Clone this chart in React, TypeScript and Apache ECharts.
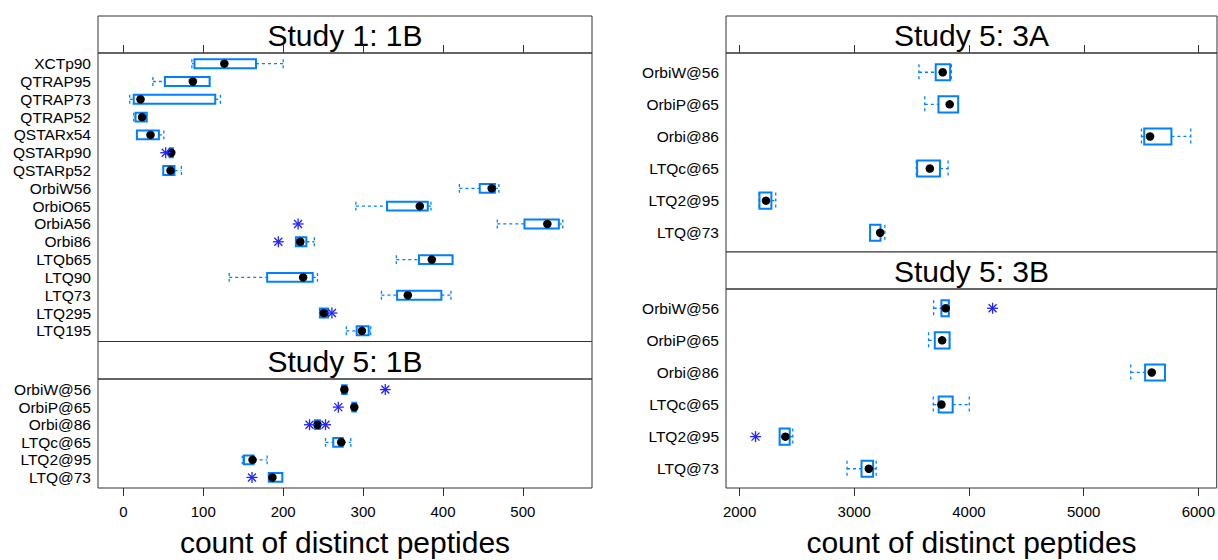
import React, { useEffect, useRef } from "react";
import * as echarts from "echarts";

// ---------- data (categories listed bottom to top) ----------
const study1Names = ["LTQ195", "LTQ295", "LTQ73", "LTQ90", "LTQb65", "Orbi86", "OrbiA56", "OrbiO65", "OrbiW56", "QSTARp52", "QSTARp90", "QSTARx54", "QTRAP52", "QTRAP73", "QTRAP95", "XCTp90"];
const study1Lo = [279, 246, 323, 132.5, 341.6, 216, 468, 291, 420.6, 50, 57.5, 17, 13, 8, 37, 85.8];
const study1Q1 = [292, 246, 342.6, 180, 370, 216, 502, 330, 446, 50, 58, 17, 15.3, 13, 52, 89];
const study1Med = [298.6, 251, 356, 225, 386, 221.5, 530.6, 371, 461, 59, 60, 34, 23.5, 21.5, 87, 126.4];
const study1Q3 = [307, 256, 398, 237, 412, 229, 545, 381, 465, 64, 62, 44.5, 29.2, 115, 108, 166];
const study1Hi = [309.6, 256, 410, 243, 412, 239, 550, 385, 470, 72.7, 62, 50.7, 29.2, 121.5, 108, 200];
const study1OutNames = ["LTQ295", "Orbi86", "OrbiA56", "QSTARp90"];
const study1OutValues = [261, 194, 218.7, 53];

const s5Names = ["LTQ@73", "LTQ2@95", "LTQc@65", "Orbi@86", "OrbiP@65", "OrbiW@56"];

const s51BLo = [182, 148.8, 253, 240, 286.6, 273.7];
const s51BQ1 = [182, 151, 262.7, 240, 286.6, 273.7];
const s51BMed = [186.6, 161.7, 272.7, 243, 289, 276.6];
const s51BQ3 = [199, 163, 274.6, 246, 291.4, 279.4];
const s51BHi = [199, 180, 284.7, 246, 291.4, 279.4];
const s51BOutNames = ["LTQ@73", "Orbi@86", "Orbi@86", "OrbiP@65", "OrbiW@56"];
const s51BOutValues = [161, 233, 253, 269, 327.8];

const s53ALo = [3137, 2169, 3540, 5502, 3614, 3563];
const s53AQ1 = [3137, 2173, 3547, 5526, 3733, 3709];
const s53AMed = [3225, 2230, 3658, 5577, 3831, 3770];
const s53AQ3 = [3228, 2277, 3746, 5763, 3905, 3835];
const s53AHi = [3266, 2315, 3817, 5932, 3905, 3845];
const s53AOutNames: string[] = [];
const s53AOutValues: number[] = [];

const s53BLo = [2937, 2349, 3689, 5411, 3648, 3692];
const s53BQ1 = [3063, 2349, 3736, 5536, 3702, 3760];
const s53BMed = [3127, 2399, 3760, 5594, 3766, 3797];
const s53BQ3 = [3164, 2437, 3858, 5709, 3831, 3824];
const s53BHi = [3191, 2464, 4003, 5709, 3831, 3824];
const s53BOutNames = ["LTQ2@95", "OrbiW@56"];
const s53BOutValues = [2139, 4206];

const leftTicks = [0, 100, 200, 300, 400, 500];
const rightTicks = [2000, 3000, 4000, 5000, 6000];
const stripTitles = ["Study 1: 1B", "Study 5: 1B", "Study 5: 3A", "Study 5: 3B"];
const axisTitle = "count of distinct peptides";

// ---------- styles ----------
const BOX = "#0080ff";
const STAR = "#2424ff";
const FRAME = "#333333";
const FONT = "'Liberation Sans', Arial, Helvetica, sans-serif";

const LEFT = { x: 98, w: 494, min: -31.7, max: 586.5, ticks: leftTicks };
const RIGHT = { x: 726, w: 491, min: 1881.5, max: 6160.4, ticks: rightTicks };

type Panel = {
  col: typeof LEFT;
  stripTop: number;
  stripH: number;
  panelTop: number;
  panelH: number;
  title: string;
  names: string[];
  lo: number[];
  q1: number[];
  med: number[];
  q3: number[];
  hi: number[];
  outNames: string[];
  outValues: number[];
  topTicks: boolean;
  bottomAxis: boolean;
};

const panels: Panel[] = [
  { col: LEFT, stripTop: 16, stripH: 37, panelTop: 53, panelH: 288.5, title: stripTitles[0], names: study1Names, lo: study1Lo, q1: study1Q1, med: study1Med, q3: study1Q3, hi: study1Hi, outNames: study1OutNames, outValues: study1OutValues, topTicks: true, bottomAxis: false },
  { col: LEFT, stripTop: 341.5, stripH: 37.5, panelTop: 379, panelH: 109, title: stripTitles[1], names: s5Names, lo: s51BLo, q1: s51BQ1, med: s51BMed, q3: s51BQ3, hi: s51BHi, outNames: s51BOutNames, outValues: s51BOutValues, topTicks: false, bottomAxis: true },
  { col: RIGHT, stripTop: 16, stripH: 37, panelTop: 53, panelH: 199, title: stripTitles[2], names: s5Names, lo: s53ALo, q1: s53AQ1, med: s53AMed, q3: s53AQ3, hi: s53AHi, outNames: s53AOutNames, outValues: s53AOutValues, topTicks: true, bottomAxis: false },
  { col: RIGHT, stripTop: 252, stripH: 37, panelTop: 289, panelH: 199, title: stripTitles[3], names: s5Names, lo: s53BLo, q1: s53BQ1, med: s53BMed, q3: s53BQ3, hi: s53BHi, outNames: s53BOutNames, outValues: s53BOutValues, topTicks: false, bottomAxis: true },
];

function buildOption() {
  const grid: any[] = [];
  const xAxis: any[] = [];
  const yAxis: any[] = [];
  const series: any[] = [];
  const graphic: any[] = [];

  panels.forEach((p) => {
    const n = p.names.length;
    // strip grid
    const sIdx = grid.length;
    grid.push({ left: p.col.x, top: p.stripTop, width: p.col.w, height: p.stripH, show: true, borderColor: FRAME, borderWidth: 1, backgroundColor: "#ffffff", containLabel: false });
    xAxis.push({
      gridIndex: sIdx, type: "value", min: p.col.min, max: p.col.max, position: "top",
      axisLine: { show: false },
      axisTick: { show: p.topTicks, inside: false, length: 8, customValues: p.col.ticks, lineStyle: { color: FRAME, width: 1 } },
      axisLabel: { show: false }, splitLine: { show: false },
    });
    yAxis.push({ gridIndex: sIdx, type: "value", min: 0, max: 1, show: false });
    graphic.push({
      type: "text", x: p.col.x + p.col.w / 2, y: p.stripTop + p.stripH / 2 + 1,
      style: { text: p.title, fontSize: 30, fontFamily: FONT, fill: "#000", align: "center", verticalAlign: "middle" },
    });

    // panel grid
    const pIdx = grid.length;
    grid.push({ left: p.col.x, top: p.panelTop, width: p.col.w, height: p.panelH, show: true, borderColor: FRAME, borderWidth: 1, backgroundColor: "transparent", containLabel: false });
    xAxis.push({
      gridIndex: pIdx, type: "value", min: p.col.min, max: p.col.max, position: "bottom",
      axisLine: { show: false },
      axisTick: { show: p.bottomAxis, inside: false, length: 8, customValues: p.col.ticks, lineStyle: { color: FRAME, width: 1 } },
      axisLabel: { show: p.bottomAxis, customValues: p.col.ticks, fontSize: 15, fontFamily: FONT, color: "#000", margin: 16, formatter: (v: number) => String(v) },
      splitLine: { show: false },
    });
    const idxs = p.names.map((_, i) => i + 1);
    const names = p.names;
    yAxis.push({
      gridIndex: pIdx, type: "value", min: 0.4, max: n + 0.6,
      axisLine: { show: false }, axisTick: { show: false }, splitLine: { show: false },
      axisLabel: {
        customValues: idxs, fontSize: 15.5, fontFamily: FONT, color: "#000", margin: 7,
        formatter: (v: number) => names[Math.round(v) - 1] ?? "",
      },
    });

    const boxData = p.names.map((_, i) => [p.lo[i], p.q1[i], p.q3[i], p.hi[i], i + 1]);
    series.push({
      type: "custom", xAxisIndex: pIdx, yAxisIndex: pIdx, z: 2, clip: false,
      encode: { x: [0, 1, 2, 3], y: 4 },
      data: boxData,
      renderItem: (params: any, api: any) => {
        const lo = api.value(0), q1 = api.value(1), q3 = api.value(2), hi = api.value(3), y = api.value(4);
        const pLo = api.coord([lo, y]);
        const pQ1 = api.coord([q1, y]);
        const pQ3 = api.coord([q3, y]);
        const pHi = api.coord([hi, y]);
        const bh = api.size([0, 0.5])[1];
        const cy = pLo[1];
        const dash = { stroke: BOX, lineWidth: 1.3, lineDash: [3, 3], fill: "none" };
        return {
          type: "group",
          children: [
            { type: "line", shape: { x1: pLo[0], y1: cy, x2: pQ1[0], y2: cy }, style: dash },
            { type: "line", shape: { x1: pQ3[0], y1: cy, x2: pHi[0], y2: cy }, style: dash },
            { type: "line", shape: { x1: pLo[0], y1: cy - bh / 2, x2: pLo[0], y2: cy + bh / 2 }, style: dash },
            { type: "line", shape: { x1: pHi[0], y1: cy - bh / 2, x2: pHi[0], y2: cy + bh / 2 }, style: dash },
            { type: "rect", shape: { x: pQ1[0], y: cy - bh / 2, width: Math.max(pQ3[0] - pQ1[0], 1), height: bh }, style: { fill: "none", stroke: BOX, lineWidth: 2 } },
          ],
        };
      },
    });

    series.push({
      type: "scatter", xAxisIndex: pIdx, yAxisIndex: pIdx, z: 4,
      symbol: "circle", symbolSize: 8.5,
      itemStyle: { color: "#000000", opacity: 1 },
      data: p.med.map((m, i) => [m, i + 1]),
    });

    if (p.outValues.length) {
      series.push({
        type: "custom", xAxisIndex: pIdx, yAxisIndex: pIdx, z: 5, clip: false,
        encode: { x: 0, y: 1 },
        data: p.outValues.map((v, i) => [v, p.names.indexOf(p.outNames[i]) + 1]),
        renderItem: (params: any, api: any) => {
          const c = api.coord([api.value(0), api.value(1)]);
          const r = 5.5, d = 4;
          const st = { stroke: STAR, lineWidth: 1.3 };
          return {
            type: "group",
            children: [
              { type: "line", shape: { x1: c[0] - r, y1: c[1], x2: c[0] + r, y2: c[1] }, style: st },
              { type: "line", shape: { x1: c[0], y1: c[1] - r, x2: c[0], y2: c[1] + r }, style: st },
              { type: "line", shape: { x1: c[0] - d, y1: c[1] - d, x2: c[0] + d, y2: c[1] + d }, style: st },
              { type: "line", shape: { x1: c[0] - d, y1: c[1] + d, x2: c[0] + d, y2: c[1] - d }, style: st },
            ],
          };
        },
      });
    }
  });

  [LEFT, RIGHT].forEach((col) => {
    graphic.push({
      type: "text", x: col.x + col.w / 2, y: 542,
      style: { text: axisTitle, fontSize: 30, fontFamily: FONT, fill: "#000", align: "center", verticalAlign: "middle" },
    });
  });

  return { animation: false, backgroundColor: "#ffffff", grid, xAxis, yAxis, series, graphic };
}

export default function App() {
  const ref = useRef<HTMLDivElement>(null);
  useEffect(() => {
    document.body.style.margin = "0";
    if (!ref.current) return;
    const chart = echarts.init(ref.current, undefined, { renderer: "svg" });
    chart.setOption(buildOption() as any);
    return () => chart.dispose();
  }, []);
  return <div ref={ref} style={{ width: 1218, height: 560 }} />;
}
